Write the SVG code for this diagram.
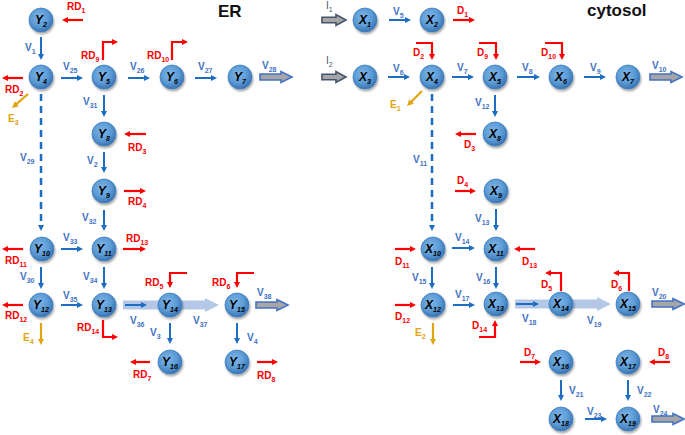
<svg xmlns="http://www.w3.org/2000/svg" width="685" height="435" viewBox="0 0 685 435">
<style>
.n{fill:url(#ng);stroke:#3f7fc0;stroke-width:0.8;filter:url(#sh)}
.nt{font-family:"Liberation Sans",Arial,sans-serif;font-size:12px;font-weight:bold;font-style:italic;fill:#000;text-anchor:middle}
.b{stroke:#1b6ec2;stroke-width:2;fill:none;marker-end:url(#ab)}
.d{stroke:#1b6ec2;stroke-width:2.5;fill:none;stroke-dasharray:7 5;marker-end:url(#ab)}
.r{stroke:#ff0000;stroke-width:2.2;fill:none;marker-end:url(#ar)}
.o{stroke:#e0a412;stroke-width:2.2;fill:none;marker-end:url(#ao)}
.fat{fill:#a6a6a6;stroke:#4472c4;stroke-width:1.6}
.fi{fill:#a6a6a6;stroke:#44546a;stroke-width:1.6}
.band{fill:#b4c7e7}
text{font-family:"Liberation Sans",Arial,sans-serif;font-size:10px;font-weight:bold}
.lv{fill:#4472c4}
.lr{fill:#ff0000}
.lo{fill:#e0a412}
.li{fill:#44546a;font-weight:normal}
.s{font-size:7px}
.ttl{font-size:17px;font-weight:bold;fill:#111}
</style>
<defs>
<radialGradient id="ng" cx="42%" cy="38%" r="62%">
<stop offset="0" stop-color="#80b5e6"/>
<stop offset="0.6" stop-color="#5b9bd5"/>
<stop offset="1" stop-color="#3a74b3"/>
</radialGradient>
<filter id="sh" x="-40%" y="-40%" width="180%" height="180%">
<feDropShadow dx="1" dy="2" stdDeviation="1.3" flood-color="#000" flood-opacity="0.35"/>
</filter>
<marker id="ab" viewBox="0 0 10 10" refX="2.3" refY="5" markerWidth="6.5" markerHeight="6.5" markerUnits="userSpaceOnUse" orient="auto"><path d="M0,0 L10,5 L0,10 Z" fill="#1b6ec2"/></marker>
<marker id="ar" viewBox="0 0 10 10" refX="2.3" refY="5" markerWidth="6.5" markerHeight="6.5" markerUnits="userSpaceOnUse" orient="auto"><path d="M0,0 L10,5 L0,10 Z" fill="#ff0000"/></marker>
<marker id="ao" viewBox="0 0 10 10" refX="2.3" refY="5" markerWidth="6.5" markerHeight="6.5" markerUnits="userSpaceOnUse" orient="auto"><path d="M0,0 L10,5 L0,10 Z" fill="#e0a412"/></marker>
<path id="fa" d="M0,-3 H21 V-5.5 L32,0 L21,5.5 V3 H0 Z"/>
<path id="fb" d="M0,-2.8 H14 V-5.5 L24,0 L14,5.5 V2.8 H0 Z"/>
</defs>

<text class="ttl" x="218" y="17">ER</text>
<text class="ttl" x="587" y="16">cytosol</text>

<g id="bands">
<path class="band" d="M123,300.5 H205 V298 L219,305 L205,312 V309.5 H123 Z"/>
<path class="band" d="M515,299.5 H597 V297 L611,304 L597,311 V308.5 H515 Z"/>
</g>

<g id="connectors">
<path class="b" d="M41,37 V55"/>
<path class="b" d="M61,78 H78"/>
<path class="b" d="M128,78 H145"/>
<path class="b" d="M195,78 H212"/>
<path class="b" d="M104,95 V112"/>
<path class="b" d="M104,152 V168"/>
<path class="b" d="M104,210 V226"/>
<path class="b" d="M61,249 H78"/>
<path class="b" d="M41,267 V284"/>
<path class="b" d="M104,267 V284"/>
<path class="b" d="M61,305 H78"/>
<path class="b" d="M125,305 H142"/>
<path class="b" d="M170,323 V339"/>
<path class="b" d="M237,323 V339"/>
<path class="d" d="M41,94 V226"/>
<path class="b" d="M389,20 H406"/>
<path class="b" d="M388,77 H405"/>
<path class="b" d="M452,77 H469"/>
<path class="b" d="M517,77 H535"/>
<path class="b" d="M584,77 H601"/>
<path class="b" d="M495,95 V112"/>
<path class="b" d="M496,209 V226"/>
<path class="b" d="M452,248 H470"/>
<path class="b" d="M432,267 V284"/>
<path class="b" d="M496,267 V284"/>
<path class="b" d="M453,305 H470"/>
<path class="b" d="M516,304 H534"/>
<path class="b" d="M561,380 V396"/>
<path class="b" d="M628,380 V396"/>
<path class="b" d="M585,419 H602"/>
<path class="d" d="M432,94 V226"/>
<path class="r" d="M83,20 H67"/>
<path class="r" d="M23,78 H7"/>
<path class="r" d="M103,60 V42 H113"/>
<path class="r" d="M172,60 V42 H183"/>
<path class="r" d="M146,134 H129"/>
<path class="r" d="M124,191 H141"/>
<path class="r" d="M23,249 H7"/>
<path class="r" d="M123,249 H141"/>
<path class="r" d="M187,273 H170 V283"/>
<path class="r" d="M254,273 H237 V283"/>
<path class="r" d="M23,305 H7"/>
<path class="r" d="M103,320 V337 H113"/>
<path class="r" d="M150,362 H135"/>
<path class="r" d="M257,362 H273"/>
<path class="r" d="M453,20 H470"/>
<path class="r" d="M416,43 H432 V55"/>
<path class="r" d="M479,43 H496 V55"/>
<path class="r" d="M545,43 H562 V55"/>
<path class="r" d="M476,134 H460"/>
<path class="r" d="M455,191 H471"/>
<path class="r" d="M395,249 H411"/>
<path class="r" d="M535,249 H519"/>
<path class="r" d="M561,291 V273 H550"/>
<path class="r" d="M629,291 V273 H618"/>
<path class="r" d="M395,305 H411"/>
<path class="r" d="M479,337 H495 V325"/>
<path class="r" d="M520,362 H536"/>
<path class="r" d="M670,362 H654"/>
<path class="o" d="M28,94 L15.8,104.7"/>
<path class="o" d="M422,91 L410.5,102.5"/>
<path class="o" d="M41,323 V340"/>
<path class="o" d="M433,323 V340"/>
<use href="#fa" class="fat" x="260" y="77"/>
<use href="#fa" class="fat" x="650" y="77"/>
<use href="#fa" class="fat" x="256" y="305"/>
<use href="#fa" class="fat" x="652" y="304"/>
<use href="#fa" class="fat" x="652" y="419"/>
<use href="#fb" class="fi" x="322" y="20"/>
<use href="#fb" class="fi" x="322" y="77"/>
</g>

<g id="labels">
<text class="lr" x="67" y="10">RD<tspan class="s" dy="3">1</tspan></text>
<text class="lv" x="25" y="51">V<tspan class="s" dy="3">1</tspan></text>
<text class="lr" x="5" y="93">RD<tspan class="s" dy="3">2</tspan></text>
<text class="lo" x="8" y="122">E<tspan class="s" dy="3">3</tspan></text>
<text class="lv" x="63" y="70">V<tspan class="s" dy="3">25</tspan></text>
<text class="lr" x="81" y="59">RD<tspan class="s" dy="3">9</tspan></text>
<text class="lv" x="130" y="70">V<tspan class="s" dy="3">26</tspan></text>
<text class="lr" x="147" y="59">RD<tspan class="s" dy="3">10</tspan></text>
<text class="lv" x="198" y="70">V<tspan class="s" dy="3">27</tspan></text>
<text class="lv" x="262" y="69">V<tspan class="s" dy="3">28</tspan></text>
<text class="lv" x="83" y="105">V<tspan class="s" dy="3">31</tspan></text>
<text class="lr" x="128" y="151">RD<tspan class="s" dy="3">3</tspan></text>
<text class="lv" x="87" y="164">V<tspan class="s" dy="3">2</tspan></text>
<text class="lr" x="128" y="205">RD<tspan class="s" dy="3">4</tspan></text>
<text class="lv" x="20" y="161">V<tspan class="s" dy="3">29</tspan></text>
<text class="lv" x="82" y="221">V<tspan class="s" dy="3">32</tspan></text>
<text class="lr" x="5" y="264">RD<tspan class="s" dy="3">11</tspan></text>
<text class="lv" x="63" y="241">V<tspan class="s" dy="3">33</tspan></text>
<text class="lr" x="126" y="242">RD<tspan class="s" dy="3">13</tspan></text>
<text class="lv" x="20" y="280">V<tspan class="s" dy="3">30</tspan></text>
<text class="lv" x="83" y="280">V<tspan class="s" dy="3">34</tspan></text>
<text class="lr" x="145" y="286">RD<tspan class="s" dy="3">5</tspan></text>
<text class="lr" x="212" y="286">RD<tspan class="s" dy="3">6</tspan></text>
<text class="lr" x="5" y="319">RD<tspan class="s" dy="3">12</tspan></text>
<text class="lo" x="23" y="341">E<tspan class="s" dy="3">4</tspan></text>
<text class="lv" x="63" y="299">V<tspan class="s" dy="3">35</tspan></text>
<text class="lr" x="77" y="331">RD<tspan class="s" dy="3">14</tspan></text>
<text class="lv" x="130" y="324">V<tspan class="s" dy="3">36</tspan></text>
<text class="lv" x="193" y="324">V<tspan class="s" dy="3">37</tspan></text>
<text class="lv" x="150" y="336">V<tspan class="s" dy="3">3</tspan></text>
<text class="lr" x="133" y="378">RD<tspan class="s" dy="3">7</tspan></text>
<text class="lv" x="257" y="296">V<tspan class="s" dy="3">38</tspan></text>
<text class="lv" x="247" y="341">V<tspan class="s" dy="3">4</tspan></text>
<text class="lr" x="257" y="379">RD<tspan class="s" dy="3">8</tspan></text>

<text class="li" x="326" y="9">I<tspan class="s" dy="3">1</tspan></text>
<text class="lv" x="393" y="15">V<tspan class="s" dy="3">5</tspan></text>
<text class="lr" x="457" y="14">D<tspan class="s" dy="3">1</tspan></text>
<text class="li" x="326" y="64">I<tspan class="s" dy="3">2</tspan></text>
<text class="lv" x="393" y="72">V<tspan class="s" dy="3">6</tspan></text>
<text class="lr" x="413" y="56">D<tspan class="s" dy="3">2</tspan></text>
<text class="lo" x="390" y="108">E<tspan class="s" dy="3">1</tspan></text>
<text class="lv" x="413" y="163">V<tspan class="s" dy="3">11</tspan></text>
<text class="lv" x="457" y="71">V<tspan class="s" dy="3">7</tspan></text>
<text class="lr" x="477" y="56">D<tspan class="s" dy="3">9</tspan></text>
<text class="lv" x="522" y="71">V<tspan class="s" dy="3">8</tspan></text>
<text class="lr" x="541" y="56">D<tspan class="s" dy="3">10</tspan></text>
<text class="lv" x="590" y="71">V<tspan class="s" dy="3">9</tspan></text>
<text class="lv" x="652" y="69">V<tspan class="s" dy="3">10</tspan></text>
<text class="lv" x="475" y="106">V<tspan class="s" dy="3">12</tspan></text>
<text class="lr" x="464" y="148">D<tspan class="s" dy="3">3</tspan></text>
<text class="lr" x="457" y="184">D<tspan class="s" dy="3">4</tspan></text>
<text class="lv" x="475" y="222">V<tspan class="s" dy="3">13</tspan></text>
<text class="lv" x="455" y="241">V<tspan class="s" dy="3">14</tspan></text>
<text class="lr" x="522" y="265">D<tspan class="s" dy="3">13</tspan></text>
<text class="lr" x="395" y="265">D<tspan class="s" dy="3">11</tspan></text>
<text class="lv" x="412" y="281">V<tspan class="s" dy="3">15</tspan></text>
<text class="lv" x="476" y="281">V<tspan class="s" dy="3">16</tspan></text>
<text class="lr" x="541" y="288">D<tspan class="s" dy="3">5</tspan></text>
<text class="lr" x="611" y="288">D<tspan class="s" dy="3">6</tspan></text>
<text class="lr" x="395" y="320">D<tspan class="s" dy="3">12</tspan></text>
<text class="lo" x="415" y="336">E<tspan class="s" dy="3">2</tspan></text>
<text class="lv" x="455" y="298">V<tspan class="s" dy="3">17</tspan></text>
<text class="lr" x="472" y="329">D<tspan class="s" dy="3">14</tspan></text>
<text class="lv" x="522" y="322">V<tspan class="s" dy="3">18</tspan></text>
<text class="lv" x="587" y="324">V<tspan class="s" dy="3">19</tspan></text>
<text class="lv" x="652" y="296">V<tspan class="s" dy="3">20</tspan></text>
<text class="lr" x="524" y="356">D<tspan class="s" dy="3">7</tspan></text>
<text class="lr" x="658" y="356">D<tspan class="s" dy="3">8</tspan></text>
<text class="lv" x="569" y="394">V<tspan class="s" dy="3">21</tspan></text>
<text class="lv" x="637" y="394">V<tspan class="s" dy="3">22</tspan></text>
<text class="lv" x="587" y="415">V<tspan class="s" dy="3">23</tspan></text>
<text class="lv" x="653" y="413">V<tspan class="s" dy="3">24</tspan></text>
</g>

<g id="Y2"><circle class="n" cx="41" cy="20" r="12"/><text class="nt" x="41" y="24">Y<tspan class="s" dy="2.5">2</tspan></text></g>
<g id="Y4"><circle class="n" cx="41" cy="77" r="12"/><text class="nt" x="41" y="81">Y<tspan class="s" dy="2.5">4</tspan></text></g>
<g id="Y5"><circle class="n" cx="104" cy="77" r="12"/><text class="nt" x="104" y="81">Y<tspan class="s" dy="2.5">5</tspan></text></g>
<g id="Y6"><circle class="n" cx="172" cy="77" r="12"/><text class="nt" x="172" y="81">Y<tspan class="s" dy="2.5">6</tspan></text></g>
<g id="Y7"><circle class="n" cx="240" cy="77" r="12"/><text class="nt" x="240" y="81">Y<tspan class="s" dy="2.5">7</tspan></text></g>
<g id="Y8"><circle class="n" cx="104" cy="134" r="12"/><text class="nt" x="104" y="138">Y<tspan class="s" dy="2.5">8</tspan></text></g>
<g id="Y9"><circle class="n" cx="104" cy="191" r="12"/><text class="nt" x="104" y="195">Y<tspan class="s" dy="2.5">9</tspan></text></g>
<g id="Y10"><circle class="n" cx="42" cy="249" r="12"/><text class="nt" x="42" y="253">Y<tspan class="s" dy="2.5">10</tspan></text></g>
<g id="Y11"><circle class="n" cx="104" cy="249" r="12"/><text class="nt" x="104" y="253">Y<tspan class="s" dy="2.5">11</tspan></text></g>
<g id="Y12"><circle class="n" cx="41" cy="305" r="12"/><text class="nt" x="41" y="309">Y<tspan class="s" dy="2.5">12</tspan></text></g>
<g id="Y13"><circle class="n" cx="104" cy="305" r="12"/><text class="nt" x="104" y="309">Y<tspan class="s" dy="2.5">13</tspan></text></g>
<g id="Y14"><circle class="n" cx="170" cy="305" r="12"/><text class="nt" x="170" y="309">Y<tspan class="s" dy="2.5">14</tspan></text></g>
<g id="Y15"><circle class="n" cx="237" cy="305" r="12"/><text class="nt" x="237" y="309">Y<tspan class="s" dy="2.5">15</tspan></text></g>
<g id="Y16"><circle class="n" cx="170" cy="362" r="12"/><text class="nt" x="170" y="366">Y<tspan class="s" dy="2.5">16</tspan></text></g>
<g id="Y17"><circle class="n" cx="237" cy="362" r="12"/><text class="nt" x="237" y="366">Y<tspan class="s" dy="2.5">17</tspan></text></g>

<g id="X1"><circle class="n" cx="365" cy="20" r="12"/><text class="nt" x="365" y="24">X<tspan class="s" dy="2.5">1</tspan></text></g>
<g id="X2"><circle class="n" cx="432" cy="20" r="12"/><text class="nt" x="432" y="24">X<tspan class="s" dy="2.5">2</tspan></text></g>
<g id="X3"><circle class="n" cx="365" cy="77" r="12"/><text class="nt" x="365" y="81">X<tspan class="s" dy="2.5">3</tspan></text></g>
<g id="X4"><circle class="n" cx="432" cy="77" r="12"/><text class="nt" x="432" y="81">X<tspan class="s" dy="2.5">4</tspan></text></g>
<g id="X5"><circle class="n" cx="495" cy="77" r="12"/><text class="nt" x="495" y="81">X<tspan class="s" dy="2.5">5</tspan></text></g>
<g id="X6"><circle class="n" cx="561" cy="77" r="12"/><text class="nt" x="561" y="81">X<tspan class="s" dy="2.5">6</tspan></text></g>
<g id="X7"><circle class="n" cx="628" cy="77" r="12"/><text class="nt" x="628" y="81">X<tspan class="s" dy="2.5">7</tspan></text></g>
<g id="X8"><circle class="n" cx="495" cy="134" r="12"/><text class="nt" x="495" y="138">X<tspan class="s" dy="2.5">8</tspan></text></g>
<g id="X9"><circle class="n" cx="496" cy="191" r="12"/><text class="nt" x="496" y="195">X<tspan class="s" dy="2.5">9</tspan></text></g>
<g id="X10"><circle class="n" cx="433" cy="249" r="12"/><text class="nt" x="433" y="253">X<tspan class="s" dy="2.5">10</tspan></text></g>
<g id="X11"><circle class="n" cx="496" cy="249" r="12"/><text class="nt" x="496" y="253">X<tspan class="s" dy="2.5">11</tspan></text></g>
<g id="X12"><circle class="n" cx="433" cy="305" r="12"/><text class="nt" x="433" y="309">X<tspan class="s" dy="2.5">12</tspan></text></g>
<g id="X13"><circle class="n" cx="496" cy="304" r="12"/><text class="nt" x="496" y="308">X<tspan class="s" dy="2.5">13</tspan></text></g>
<g id="X14"><circle class="n" cx="561" cy="304" r="12"/><text class="nt" x="561" y="308">X<tspan class="s" dy="2.5">14</tspan></text></g>
<g id="X15"><circle class="n" cx="628" cy="304" r="12"/><text class="nt" x="628" y="308">X<tspan class="s" dy="2.5">15</tspan></text></g>
<g id="X16"><circle class="n" cx="561" cy="362" r="12"/><text class="nt" x="561" y="366">X<tspan class="s" dy="2.5">16</tspan></text></g>
<g id="X17"><circle class="n" cx="628" cy="362" r="12"/><text class="nt" x="628" y="366">X<tspan class="s" dy="2.5">17</tspan></text></g>
<g id="X18"><circle class="n" cx="561" cy="419" r="12"/><text class="nt" x="561" y="423">X<tspan class="s" dy="2.5">18</tspan></text></g>
<g id="X19"><circle class="n" cx="628" cy="419" r="12"/><text class="nt" x="628" y="423">X<tspan class="s" dy="2.5">19</tspan></text></g>
</svg>
